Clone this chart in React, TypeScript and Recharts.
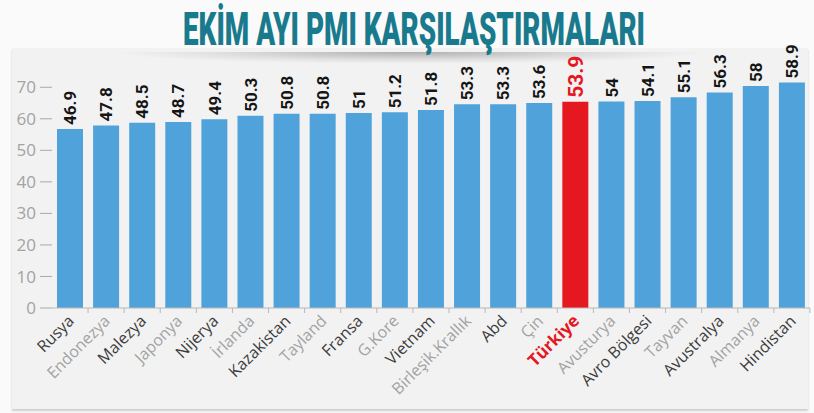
import { BarChart, Bar, XAxis, YAxis, Cell, LabelList } from "recharts";

const countries = [
    "Rusya", "Endonezya", "Malezya", "Japonya", "Nijerya", "İrlanda", "Kazakistan",
    "Tayland", "Fransa", "G.Kore", "Vietnam", "Birleşik.Krallık", "Abd", "Çin",
    "Türkiye", "Avusturya", "Avro Bölgesi", "Tayvan", "Avustralya", "Almanya", "Hindistan",
];
const pmiValues = [
    46.9, 47.8, 48.5, 48.7, 49.4, 50.3, 50.8, 50.8, 51, 51.2, 51.8,
    53.3, 53.3, 53.6, 53.9, 54, 54.1, 55.1, 56.3, 58, 58.9,
];
const yTicks = [0, 10, 20, 30, 40, 50, 60, 70];
const highlight = "Türkiye";

const data = countries.map((name, i) => ({ name, pmi: pmiValues[i] }));

const BLUE = "#50a2db";
const RED = "#e5171f";
const TEAL = "#197a8d";

function CountryTick(props: any) {
    const x = Number(props.x);
    const y = Number(props.y);
    const { payload } = props;
    const i = payload.index;
    const isTr = payload.value === highlight;
    const fill = isTr ? RED : i % 2 === 0 ? "#3c3c3c" : "#a2a2a2";
    return (
        <g>
            <line x1={x + 18} x2={x + 18} y1={y} y2={y + 5} stroke="#b8b8b8" />
            <g transform={`translate(${x + 5}, ${y + 14}) rotate(-45)`}>
                <text
                    x={0}
                    y={0}
                    textAnchor="end"
                    fill={fill}
                    fontSize={isTr ? 17 : 16}
                    fontWeight={isTr ? 700 : 400}
                    fontFamily="'Open Sans', sans-serif"
                >
                    {payload.value}
                </text>
            </g>
        </g>
    );
}

function renderValueLabel(props: any) {
    const x = Number(props.x);
    const y = Number(props.y);
    const width = Number(props.width);
    const { value, index } = props;
    const isTr = countries[index] === highlight;
    const cx = x + width / 2;
    const ty = y - 4;
    return (
        <g key={`lbl-${index}`} transform={`translate(${cx}, ${ty}) rotate(-90)`}>
            <text
                x={0}
                y={0}
                textAnchor="start"
                dy="0.36em"
                fill={isTr ? RED : "#151515"}
                fontSize={isTr ? 21 : 17}
                fontWeight={700}
                fontFamily="Roboto, sans-serif"
            >
                {String(value)}
            </text>
        </g>
    );
}

export default function App() {
    return (
        <div
            style={{
                position: "absolute",
                left: 0,
                top: 0,
                width: 814,
                height: 413,
                background: "#fafafa",
                overflow: "hidden",
            }}
        >
            {/* panel */}
            <div
                style={{
                    position: "absolute",
                    left: 12,
                    top: 48,
                    width: 796,
                    height: 361,
                    background: "#f2f2f2",
                    boxShadow: "0 2px 2px rgba(0,0,0,0.18)",
                }}
            />
            {/* shadow under the title */}
            <div
                style={{
                    position: "absolute",
                    left: 110,
                    top: 52,
                    width: 600,
                    height: 12,
                    background:
                        "radial-gradient(ellipse at 50% 0%, rgba(0,0,0,0.28) 0%, rgba(0,0,0,0.08) 45%, rgba(0,0,0,0) 70%)",
                }}
            />
            <svg width={814} height={60} style={{ position: "absolute", left: 0, top: 0 }}>
                <g transform="translate(414, 45) scale(1, 1.6)">
                    <text
                        x={0}
                        y={0}
                        textAnchor="middle"
                        fill={TEAL}
                        fontSize={28.65}
                        fontWeight={900}
                        fontFamily="Roboto, sans-serif"
                        textLength={462}
                        lengthAdjust="spacingAndGlyphs"
                    >
                        EKİM AYI PMI KARŞILAŞTIRMALARI
                    </text>
                </g>
            </svg>
            <div style={{ position: "absolute", left: 0, top: 0 }}>
                <BarChart
                    width={814}
                    height={413}
                    data={data}
                    margin={{ top: 45, right: 4, left: 0, bottom: 0 }}
                    barSize={26}
                >
                    <XAxis
                        dataKey="name"
                        interval={0}
                        height={105}
                        tickSize={0}
                        tickMargin={0}
                        tickLine={false}
                        axisLine={{ stroke: "#b8b8b8" }}
                        tick={<CountryTick />}
                    />
                    <YAxis yAxisId="bars" hide width={0} domain={[0.77, 68.55]} allowDataOverflow />
                    <YAxis
                        yAxisId="scale"
                        width={52}
                        domain={[0, 83.4]}
                        ticks={yTicks}
                        allowDataOverflow
                        axisLine={false}
                        tickSize={12}
                        tickMargin={4}
                        tickLine={{ stroke: "#a8a8a8" }}
                        tick={{ fill: "#a3a3a3", fontSize: 17, fontFamily: "'Open Sans', sans-serif" }}
                    />
                    <Bar dataKey="pmi" yAxisId="bars" isAnimationActive={false}>
                        {data.map((d) => (
                            <Cell key={d.name} fill={d.name === highlight ? RED : BLUE} />
                        ))}
                        <LabelList dataKey="pmi" content={renderValueLabel} />
                    </Bar>
                </BarChart>
            </div>
        </div>
    );
}
